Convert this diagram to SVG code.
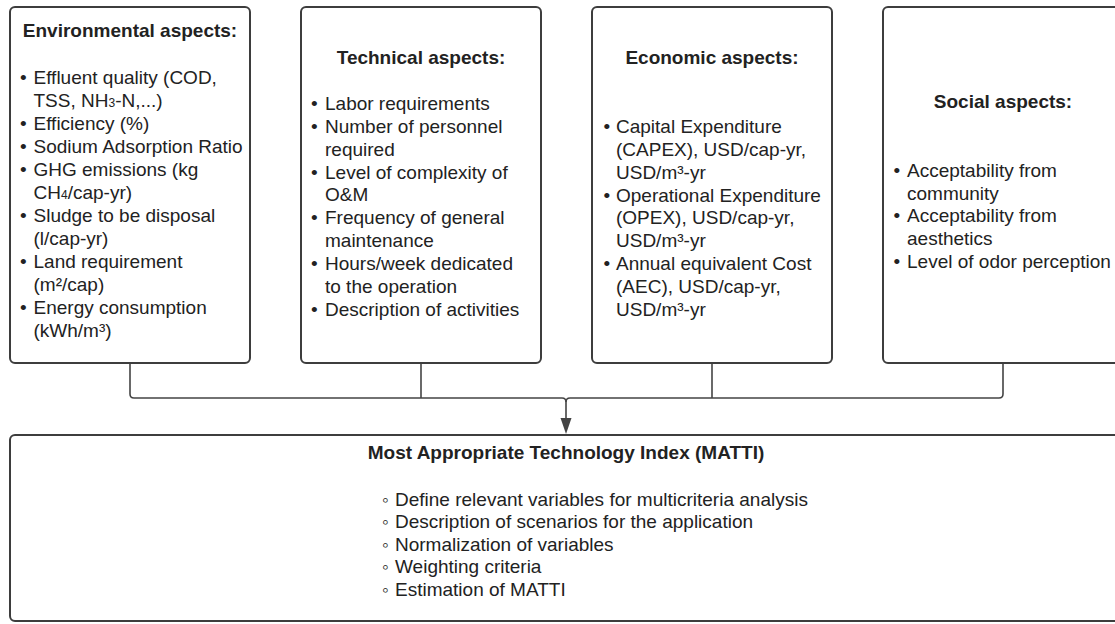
<svg xmlns="http://www.w3.org/2000/svg" width="1115" height="624" viewBox="0 0 1115 624">
  <defs>
    <style>
      .box { fill: #ffffff; stroke: #3d3d3d; stroke-width: 2; }
      .wire { fill: none; stroke: #444444; stroke-width: 1.6; }
      text { font-family: "Liberation Sans", Arial, sans-serif; font-size: 19px; fill: #222222; }
      .head { font-weight: bold; text-anchor: middle; }
      .sub { font-size: 12px; }
    </style>
    <marker id="arrow" viewBox="0 0 12 16" refX="6" refY="16" markerWidth="12" markerHeight="16" markerUnits="userSpaceOnUse" orient="auto-start-reverse">
      <path d="M0,0 L12,0 L6,16 Z" fill="#444444" transform="rotate(0)"/>
    </marker>
  </defs>

  <rect width="1115" height="624" fill="#ffffff"/>

  <!-- connectors: each aspect box feeds the index box -->
  <g id="connectors">
    <path class="wire" d="M130,363 V394 Q130,398 134,398 H562 Q566,398 566,402 V420"/>
    <path class="wire" d="M1003,363 V394 Q1003,398 999,398 H570 Q566,398 566,402"/>
    <path class="wire" d="M421,363 V398"/>
    <path class="wire" d="M712,363 V398"/>
    <path d="M560.5,418 L571.5,418 L566,434 Z" fill="#444444"/>
  </g>

  <g id="environmental">
    <rect class="box" x="10" y="7" width="240" height="356" rx="5"/>
    <text class="head" x="130" y="37">Environmental aspects:</text>
    <text x="20" y="84">•</text><text x="33.5" y="84">Effluent quality (COD,</text>
    <text x="33.5" y="107">TSS, NH<tspan class="sub">3</tspan>-N,...)</text>
    <text x="20" y="130">•</text><text x="33.5" y="130">Efficiency (%)</text>
    <text x="20" y="153">•</text><text x="33.5" y="153">Sodium Adsorption Ratio</text>
    <text x="20" y="176">•</text><text x="33.5" y="176">GHG emissions (kg</text>
    <text x="33.5" y="199">CH<tspan class="sub">4</tspan>/cap-yr)</text>
    <text x="20" y="222">•</text><text x="33.5" y="222">Sludge to be disposal</text>
    <text x="33.5" y="245">(l/cap-yr)</text>
    <text x="20" y="268">•</text><text x="33.5" y="268">Land requirement</text>
    <text x="33.5" y="291">(m²/cap)</text>
    <text x="20" y="314">•</text><text x="33.5" y="314">Energy consumption</text>
    <text x="33.5" y="337">(kWh/m³)</text>
  </g>

  <g id="technical">
    <rect class="box" x="301" y="7" width="240" height="356" rx="5"/>
    <text class="head" x="421" y="64">Technical aspects:</text>
    <text x="311" y="110">•</text><text x="325" y="110">Labor requirements</text>
    <text x="311" y="133">•</text><text x="325" y="133">Number of personnel</text>
    <text x="325" y="156">required</text>
    <text x="311" y="179">•</text><text x="325" y="179">Level of complexity of</text>
    <text x="325" y="201">O&amp;M</text>
    <text x="311" y="224">•</text><text x="325" y="224">Frequency of general</text>
    <text x="325" y="247">maintenance</text>
    <text x="311" y="270">•</text><text x="325" y="270">Hours/week dedicated</text>
    <text x="325" y="293">to the operation</text>
    <text x="311" y="316">•</text><text x="325" y="316">Description of activities</text>
  </g>

  <g id="economic">
    <rect class="box" x="592" y="7" width="240" height="356" rx="5"/>
    <text class="head" x="712" y="64">Economic aspects:</text>
    <text x="603.5" y="133">•</text><text x="616" y="133">Capital Expenditure</text>
    <text x="616" y="156">(CAPEX), USD/cap-yr,</text>
    <text x="616" y="179">USD/m³-yr</text>
    <text x="603.5" y="202">•</text><text x="616" y="202">Operational Expenditure</text>
    <text x="616" y="224">(OPEX), USD/cap-yr,</text>
    <text x="616" y="247">USD/m³-yr</text>
    <text x="603.5" y="270">•</text><text x="616" y="270">Annual equivalent Cost</text>
    <text x="616" y="293">(AEC), USD/cap-yr,</text>
    <text x="616" y="316">USD/m³-yr</text>
  </g>

  <g id="social">
    <rect class="box" x="883" y="7" width="240" height="356" rx="5"/>
    <text class="head" x="1003" y="108">Social aspects:</text>
    <text x="893.5" y="177">•</text><text x="907" y="177">Acceptability from</text>
    <text x="907" y="200">community</text>
    <text x="893.5" y="222">•</text><text x="907" y="222">Acceptability from</text>
    <text x="907" y="245">aesthetics</text>
    <text x="893.5" y="268">•</text><text x="907" y="268">Level of odor perception</text>
  </g>

  <g id="matti">
    <rect class="box" x="10" y="435" width="1115" height="186" rx="5"/>
    <text class="head" x="566" y="459">Most Appropriate Technology Index (MATTI)</text>
    <text x="382" y="506">◦</text><text x="395" y="506">Define relevant variables for multicriteria analysis</text>
    <text x="382" y="528">◦</text><text x="395" y="528">Description of scenarios for the application</text>
    <text x="382" y="551">◦</text><text x="395" y="551">Normalization of variables</text>
    <text x="382" y="573">◦</text><text x="395" y="573">Weighting criteria</text>
    <text x="382" y="596">◦</text><text x="395" y="596">Estimation of MATTI</text>
  </g>
</svg>
